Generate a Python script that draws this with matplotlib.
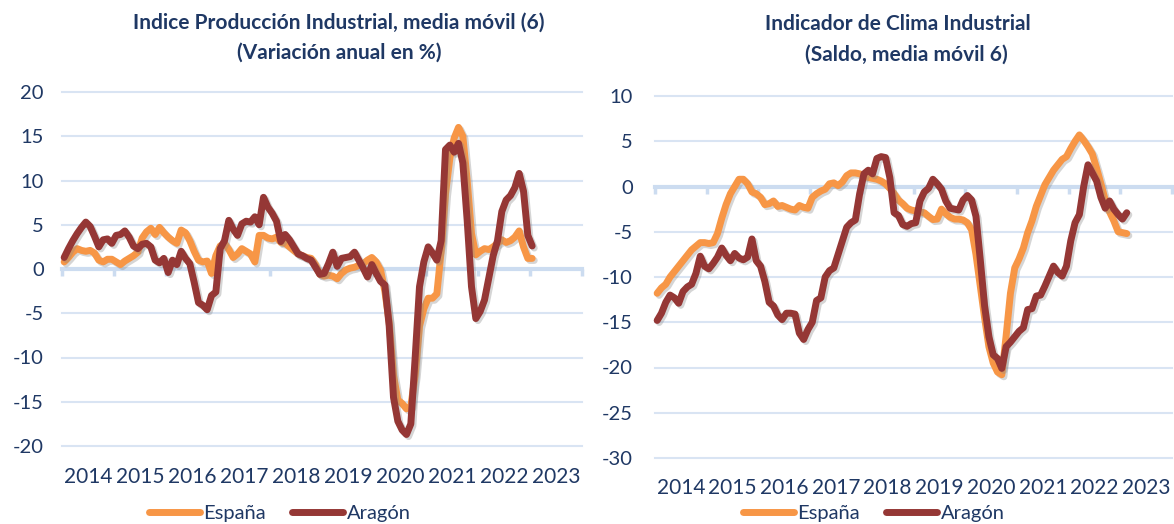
import matplotlib
matplotlib.use("Agg")
import matplotlib.pyplot as plt
import matplotlib.patheffects as pe
from matplotlib.lines import Line2D
import numpy as np

plt.rcParams['font.family'] = ['Lato', 'DejaVu Sans']

# Indice Produccion Industrial, media movil (6) - variacion anual %
ipi_espana = [0.8, 1.3, 1.9, 2.3, 2.1, 2.0, 2.1, 1.8, 1.0, 0.8, 1.1, 1.1, 0.8, 0.5, 0.9, 1.2,
              1.5, 1.9, 3.5, 4.2, 4.6, 3.9, 4.7, 4.1, 3.6, 3.2, 2.9, 4.4, 4.1, 3.2, 2.0, 1.0,
              0.8, 0.9, -0.5, 1.5, 2.6, 2.9, 2.2, 1.3, 1.7, 2.3, 2.0, 1.7, 0.8, 3.8, 3.8, 3.5,
              3.4, 3.6, 3.0, 2.9, 2.5, 2.1, 1.7, 1.5, 1.3, 1.2, 0.5, -0.6, -0.8, -0.7, -0.8, -1.1,
              -0.5, -0.1, 0.1, 0.2, 0.4, 0.6, 1.0, 1.3, 0.8, -0.1, -2.5, -6.0, -12.0, -14.8, -15.2, -15.8,
              -15.5, -12.0, -6.5, -4.5, -3.3, -3.3, -2.8, 2.0, 8.5, 12.5, 14.8, 16.0, 15.0, 10.0, 4.0, 1.6,
              2.0, 2.3, 2.2, 2.5, 2.9, 3.3, 3.0, 3.2, 3.6, 4.3, 2.5, 1.2, 1.2]
ipi_aragon = [1.3, 2.3, 3.2, 4.0, 4.7, 5.3, 4.8, 3.7, 2.5, 3.3, 3.4, 2.9, 3.8, 3.9, 4.3, 3.6,
              2.6, 2.3, 2.8, 2.9, 2.5, 1.0, 0.7, 1.2, -0.4, 1.0, 0.5, 2.0, 1.2, 0.6, -1.5, -3.8,
              -4.1, -4.6, -3.0, -2.6, 2.3, 3.2, 5.5, 4.5, 3.8, 5.1, 5.4, 5.3, 5.9, 5.0, 8.1, 7.0,
              6.3, 5.4, 3.1, 3.9, 3.3, 2.5, 1.7, 1.5, 1.2, 1.0, 0.2, -0.6, -0.5, 0.6, 1.9, 0.3,
              1.2, 1.3, 1.4, 1.9, 1.0, 0.1, -0.9, 0.5, -0.5, -1.4, -1.8, -6.4, -14.5, -17.2, -18.2, -18.7,
              -17.5, -10.0, -2.0, 0.8, 2.5, 1.8, 1.0, 3.2, 13.5, 14.0, 13.2, 14.2, 12.0, 5.5, -2.0, -5.6,
              -4.8, -3.5, -1.0, 1.5, 3.2, 6.5, 7.8, 8.3, 9.2, 10.8, 8.8, 3.8, 2.6]

# Indicador de Clima Industrial (saldo, media movil 6)
ici_espana = [-11.8, -11.2, -10.8, -10.0, -9.4, -8.8, -8.2, -7.6, -7.0, -6.6, -6.2, -6.2, -6.3, -6.2, -5.2, -3.5,
              -2.0, -0.8, 0.0, 0.8, 0.8, 0.3, -0.6, -0.8, -1.2, -2.0, -1.9, -1.6, -2.2, -2.1, -2.3, -2.5,
              -2.6, -2.1, -2.3, -2.4, -1.2, -0.8, -0.5, -0.3, 0.3, 0.4, 0.1, 0.5, 1.2, 1.5, 1.5, 1.4,
              1.2, 1.0, 0.9, 0.8, 0.6, 0.3, -0.2, -0.8, -1.5, -1.9, -2.4, -2.6, -2.7, -2.8, -2.9, -3.3,
              -3.65, -3.6, -2.5, -3.0, -3.4, -3.6, -3.6, -3.7, -4.0, -4.8, -7.5, -11.0, -14.5, -17.7, -19.5, -20.5,
              -20.8, -16.5, -11.8, -9.0, -8.0, -6.8, -5.1, -3.8, -2.2, -1.0, 0.2, 1.0, 1.8, 2.4, 3.0, 3.3,
              4.2, 5.0, 5.7, 5.1, 4.4, 3.6, 2.0, 0.3, -1.5, -2.8, -3.8, -5.0, -5.1, -5.2]
ici_aragon = [-14.8, -14.0, -12.8, -12.0, -12.3, -12.9, -11.6, -11.1, -10.8, -9.6, -7.7, -8.8, -9.1, -8.5, -7.8, -6.8,
              -7.6, -8.2, -7.4, -7.9, -8.1, -7.8, -5.8, -8.2, -8.8, -10.5, -12.8, -13.2, -14.2, -14.7, -14.0, -14.0,
              -14.1, -16.2, -16.9, -15.8, -15.0, -12.6, -12.3, -10.0, -9.3, -9.0, -7.5, -6.0, -4.5, -4.0, -3.7, -0.8,
              1.4, 1.8, 1.4, 3.1, 3.3, 3.2, 1.0, -2.9, -3.2, -4.2, -4.4, -4.1, -4.0, -1.6, -0.6, -0.2,
              0.8, 0.3, -0.3, -1.6, -2.4, -2.5, -2.6, -1.5, -1.0, -1.5, -3.3, -8.1, -13.2, -16.6, -18.6, -19.0,
              -20.1, -17.7, -17.2, -16.6, -16.0, -15.6, -13.6, -13.5, -12.1, -12.0, -11.0, -9.9, -8.8, -9.5, -9.9, -8.8,
              -6.0, -4.0, -3.1, 0.0, 2.4, 1.5, 0.6, -1.2, -2.4, -1.6, -2.5, -3.1, -3.6, -2.9]

years = ['2014', '2015', '2016', '2017', '2018', '2019', '2020', '2021', '2022', '2023']

c_esp = '#F79646'
c_ara = '#953735'
c_grid = '#D9E4F3'
c_axis = '#CCDCF0'
c_text = '#1F3864'

fig = plt.figure(figsize=(11.74, 5.24), dpi=100)

shadow = [pe.SimpleLineShadow(offset=(1.5, -1.5), shadow_color='#888888', alpha=0.35), pe.Normal()]


def draw_panel(ax, esp, ara, yticks, ypad, ylab_y):
    x1 = np.arange(len(esp)) + 0.5
    x2 = np.arange(len(ara)) + 0.5
    ax.set_xlim(0, 120)
    ax.set_ylim(yticks[0], yticks[-1])
    for s in ['top', 'right', 'left']:
        ax.spines[s].set_visible(False)
    ax.spines['bottom'].set_position(('data', 0))
    ax.spines['bottom'].set_color(c_axis)
    ax.spines['bottom'].set_linewidth(3)
    ax.spines['bottom'].set_zorder(1)
    ax.set_xticks(np.arange(0, 121, 12))
    ax.tick_params(axis='x', direction='out', length=5, width=2.5, color=c_axis, labelbottom=False)
    ax.set_yticks(yticks)
    ax.set_yticklabels([str(t) for t in yticks])
    ax.tick_params(axis='y', length=0, pad=ypad, labelsize=14.5, labelcolor=c_text)
    for t in yticks:
        if t != 0:
            ax.axhline(t, color=c_grid, lw=1.5, zorder=0, clip_on=False)
    ax.plot(x1, esp, color=c_esp, lw=5, solid_capstyle='round', solid_joinstyle='round',
            path_effects=shadow, clip_on=False, zorder=3)
    ax.plot(x2, ara, color=c_ara, lw=5, solid_capstyle='round', solid_joinstyle='round',
            path_effects=shadow, clip_on=False, zorder=4)
    for k, yr in enumerate(years):
        ax.text(6 + 12 * k, ylab_y, yr, ha='center', va='center', fontsize=15,
                color=c_text, clip_on=False)


ax1 = fig.add_axes([62 / 1174, 78 / 524, 520 / 1174, 354 / 524])
draw_panel(ax1, ipi_espana, ipi_aragon, [-20, -15, -10, -5, 0, 5, 10, 15, 20], 13, -23.5)

ax2 = fig.add_axes([655 / 1174, 66 / 524, 517 / 1174, 362 / 524])
draw_panel(ax2, ici_espana, ici_aragon, [-30, -25, -20, -15, -10, -5, 0, 5, 10], 16, -33.3)

title_kw = dict(ha='center', va='center', fontsize=15, fontweight='bold', color=c_text)
fig.text(339 / 1174, 1 - 23 / 524, 'Indice Producción Industrial, media móvil (6)', **title_kw)
fig.text(339 / 1174, 1 - 53 / 524, '(Variación anual en %)', **title_kw)
fig.text(898 / 1174, 1 - 24 / 524, 'Indicador de Clima Industrial', **title_kw)
fig.text(906 / 1174, 1 - 55 / 524, '(Saldo, media móvil 6)', **title_kw)

handles = [Line2D([], [], color=c_esp, lw=5, solid_capstyle='round'),
           Line2D([], [], color=c_ara, lw=5, solid_capstyle='round')]
for cx in (280 / 1174, 874 / 1174):
    fig.legend(handles, ['España', 'Aragón'], loc='center', bbox_to_anchor=(cx, 1 - 513 / 524),
               ncol=2, frameon=False, fontsize=14.5, labelcolor=c_text, handlelength=2.5,
               handletextpad=0.2, columnspacing=1.3, borderpad=0)

fig.savefig('out.png', dpi=100)
